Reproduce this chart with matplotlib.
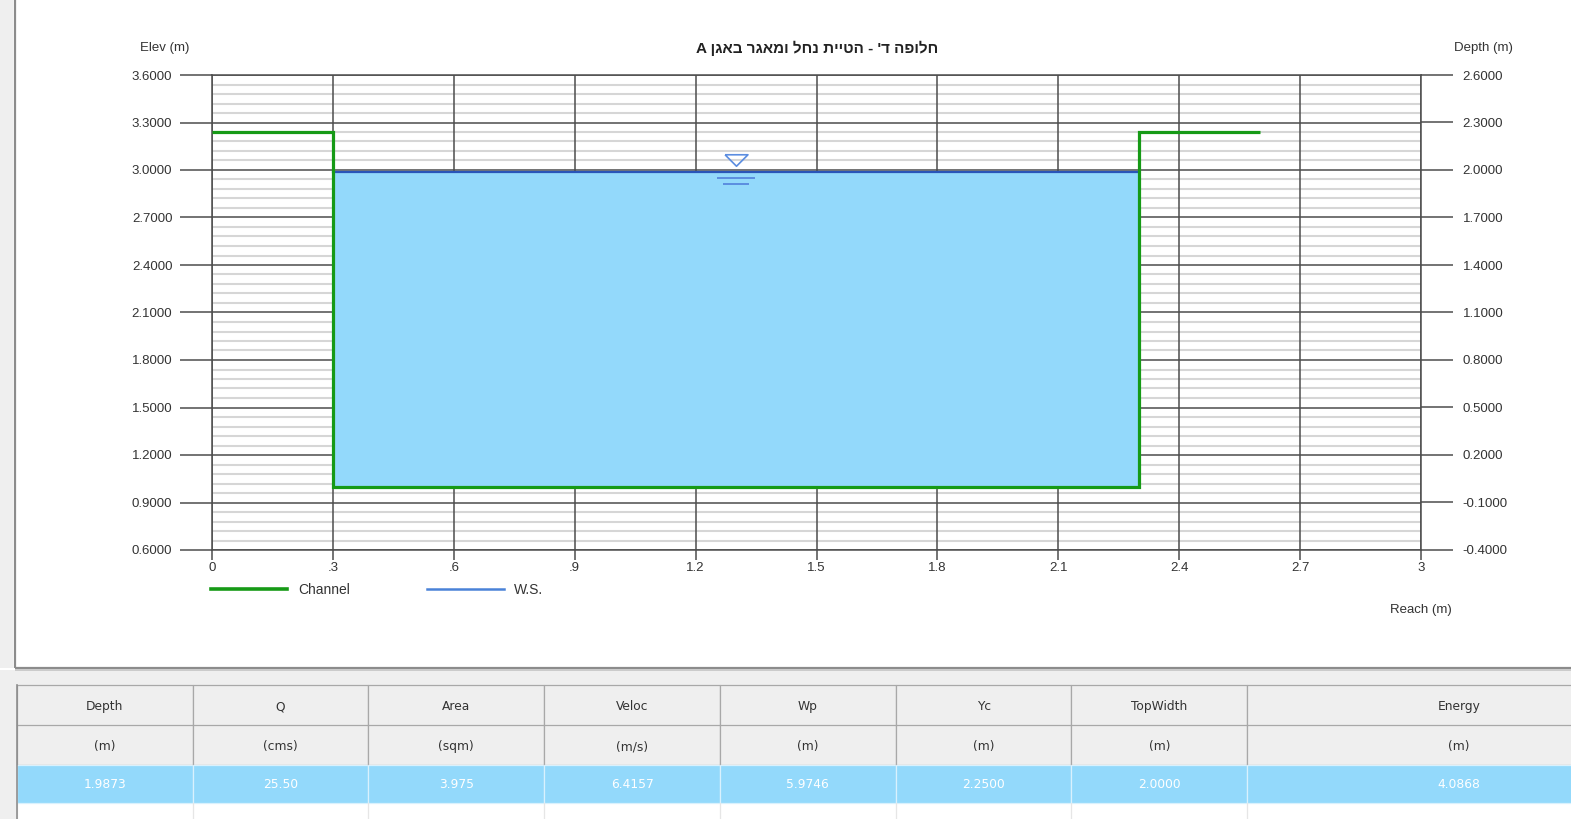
import numpy as np
import matplotlib
matplotlib.use("Agg")
import matplotlib.pyplot as plt
from matplotlib.lines import Line2D
from matplotlib.patches import Rectangle
from matplotlib.ticker import FixedLocator, FixedFormatter
from matplotlib.transforms import ScaledTranslation

plt.rcParams['font.family'] = ['Liberation Sans', 'DejaVu Sans']

# ---- data -------------------------------------------------------------
title_text = "חלופה ד' - הטיית נחל ומאגר באגן A"

# channel cross-section (reach, elevation)
reach = [0.0, 0.3, 0.3, 2.3, 2.3, 2.6]
channel_elev = [3.24, 3.24, 1.0, 1.0, 3.24, 3.24]
bed_elev = 1.0
bank_left, bank_right = 0.3, 2.3

# hydraulic results
depth = 1.9873
flow_q = 25.50
area = 3.975
velocity = 6.4157
wetted_perimeter = 5.9746
critical_depth = 2.2500
top_width = 2.0000
energy = 4.0868

ws_elev = bed_elev + depth
ws_reach = [bank_left, bank_left + top_width]

x_ticks = [0.0, 0.3, 0.6, 0.9, 1.2, 1.5, 1.8, 2.1, 2.4, 2.7, 3.0]
x_tick_labels = ["0", ".3", ".6", ".9", "1.2", "1.5", "1.8", "2.1", "2.4", "2.7", "3"]
elev_ticks = [0.6, 0.9, 1.2, 1.5, 1.8, 2.1, 2.4, 2.7, 3.0, 3.3, 3.6]
depth_ticks = [-0.4, -0.1, 0.2, 0.5, 0.8, 1.1, 1.4, 1.7, 2.0, 2.3, 2.6]
minor_per_major = 5

table_headers = ["Depth", "Q", "Area", "Veloc", "Wp", "Yc", "TopWidth", "Energy"]
table_units = ["(m)", "(cms)", "(sqm)", "(m/s)", "(m)", "(m)", "(m)", "(m)"]
table_values = [f"{depth:.4f}", f"{flow_q:.2f}", f"{area:.3f}", f"{velocity:.4f}",
                f"{wetted_perimeter:.4f}", f"{critical_depth:.4f}",
                f"{top_width:.4f}", f"{energy:.4f}"]

# ---- figure -----------------------------------------------------------
W, H = 1571, 819
fig = plt.figure(figsize=(W / 100, H / 100), dpi=100)
fig.patch.set_facecolor("white")

# window frame and results table drawn in pixel space
ui = fig.add_axes([0, 0, 1, 1], zorder=-5)
ui.set_xlim(0, W)
ui.set_ylim(H, 0)
ui.axis("off")
ui.add_patch(Rectangle((0, 0), 13, 668, color="#efefef", lw=0))
ui.add_patch(Rectangle((0, 670), W, 15, color="#efefef", lw=0))
ui.add_patch(Rectangle((0, 670), 16, H - 670, color="#efefef", lw=0))
ui.plot([15, 15], [0, 668], color="#8c8c8c", lw=1.6, solid_capstyle="butt")
ui.plot([15, W], [667.5, 667.5], color="#8c8c8c", lw=1.6, solid_capstyle="butt")
ui.plot([15, W], [669.5, 669.5], color="#c4c4c4", lw=1.2, solid_capstyle="butt")

table_font = dict(family="DejaVu Sans", fontsize=8.8)
col_w = 175.75
col_edges = [17 + i * col_w for i in range(8)] + [17 + 7 * col_w + 424]
row_top, row_h, data_h = 685, 40, 38
for i in range(len(table_headers)):
    x0, x1 = col_edges[i], col_edges[i + 1]
    cx = (x0 + x1) / 2
    ui.add_patch(Rectangle((x0, row_top), x1 - x0, 2 * row_h, facecolor="#efefef",
                           edgecolor="#a8a8a8", lw=0.9))
    ui.plot([x0, x1], [row_top + row_h, row_top + row_h], color="#a8a8a8", lw=0.9)
    ui.add_patch(Rectangle((x0, row_top + 2 * row_h), x1 - x0, data_h,
                           facecolor="#93d9fb", edgecolor="#d9f1fd", lw=0.9))
    ui.plot([x0, x0], [row_top + 2 * row_h + data_h, H], color="#e6e6e6", lw=0.9)
    ui.text(cx, row_top + row_h / 2 + 1.5, table_headers[i], ha="center", va="center",
            color="#333333", **table_font)
    ui.text(cx, row_top + 1.5 * row_h + 1.5, table_units[i], ha="center", va="center",
            color="#333333", **table_font)
    ui.text(cx, row_top + 2 * row_h + data_h / 2 + 1, table_values[i], ha="center",
            va="center", color="white", **table_font)
ui.plot([17, 17], [row_top, H], color="#8c8c8c", lw=1.2)

# ---- cross-section plot -------------------------------------------------
ax = fig.add_axes([212 / W, 1 - 550 / H, 1209 / W, 475 / H])
ax.set_xlim(x_ticks[0], x_ticks[-1])
ax.set_ylim(elev_ticks[0], elev_ticks[-1])
ax.set_axisbelow(True)

grid_c = "#4d4d4d"
ax.xaxis.set_major_locator(FixedLocator(x_ticks))
ax.xaxis.set_major_formatter(FixedFormatter(x_tick_labels))
ax.yaxis.set_major_locator(FixedLocator(elev_ticks))
ax.yaxis.set_major_formatter(FixedFormatter([f"{v:.4f}" for v in elev_ticks]))
ax.grid(which="major", axis="both", color=grid_c, lw=1.1, zorder=1)

# light minor lines between the major elevation lines, kept beneath them
step = (elev_ticks[1] - elev_ticks[0]) / minor_per_major
for lo in elev_ticks[:-1]:
    for k in range(1, minor_per_major):
        ax.axhline(lo + k * step, color="#d6d6d6", lw=1.5, zorder=0.2)

ax.tick_params(axis="y", which="major", direction="out", length=23, width=1.1,
               color=grid_c, pad=5.5, labelsize=9.5, labelcolor="#333333")
ax.tick_params(axis="x", which="major", direction="out", length=7, width=1.1,
               color=grid_c, pad=1.5, labelsize=9.5, labelcolor="#333333")
for s in ax.spines.values():
    s.set_color(grid_c)
    s.set_linewidth(1.1)

ax2 = ax.twinx()
ax2.set_ylim(depth_ticks[0], depth_ticks[-1])
ax2.yaxis.set_major_locator(FixedLocator(depth_ticks))
ax2.yaxis.set_major_formatter(FixedFormatter([f"{v:.4f}" for v in depth_ticks]))
ax2.tick_params(axis="y", direction="out", length=23, width=1.1, color=grid_c,
                pad=7, labelsize=9.5, labelcolor="#333333")
for s in ax2.spines.values():
    s.set_visible(False)

water_c = "#93d9fb"
green = "#169a16"
ws_c = "#2a55b8"
sym_c = "#5b8de0"

ax.fill_between(ws_reach, bed_elev, ws_elev, color=water_c, lw=0, zorder=3)
ax.plot(ws_reach, [ws_elev, ws_elev], color=ws_c, lw=1.6, zorder=4)
ax.plot(reach, channel_elev, color=green, lw=2.3, zorder=5,
        solid_joinstyle="miter", solid_capstyle="butt")

# water surface symbol
sym_x = 1.3
tri = [(-1, 0.5), (1, 0.5), (0, -0.5), (-1, 0.5)]
off_up = ax.transData + ScaledTranslation(0, 12 / 100, fig.dpi_scale_trans)
ax.plot([sym_x], [ws_elev], marker=tri, ms=16.5, mfc="none", mec=sym_c, mew=1.2,
        transform=off_up, zorder=6, clip_on=False)
for dy, w in [(-6, 27), (-12, 19)]:
    t = ax.transData + ScaledTranslation(0, dy / 100, fig.dpi_scale_trans)
    ax.plot([sym_x], [ws_elev], marker="_", ms=w, mec=sym_c, mew=1.4,
            transform=t, zorder=6)

# titles and axis names
fig.text(817 / W, 1 - 48 / H, title_text[::-1], ha="center", va="center",
         fontsize=11, fontweight="bold", color="#222222")
fig.text(165 / W, 1 - 48.5 / H, "Elev (m)", ha="center", va="center",
         fontsize=9.5, color="#333333")
fig.text(1483 / W, 1 - 48.5 / H, "Depth (m)", ha="center", va="center",
         fontsize=9.5, color="#333333")
fig.text(1421 / W, 1 - 610.5 / H, "Reach (m)", ha="center", va="center",
         fontsize=9.5, color="#333333")

handles = [Line2D([], [], color=green, lw=2.6),
           Line2D([], [], color="#4a82d8", lw=1.8)]
fig.legend(handles, ["Channel", "W.S."], loc="center left",
           bbox_to_anchor=(211 / W, 1 - 589.5 / H), ncol=2, frameon=False,
           fontsize=10, handlelength=5.5, handletextpad=0.75, columnspacing=5.6,
           borderpad=0, borderaxespad=0, labelcolor="#333333")

fig.savefig("out.png", dpi=100)
